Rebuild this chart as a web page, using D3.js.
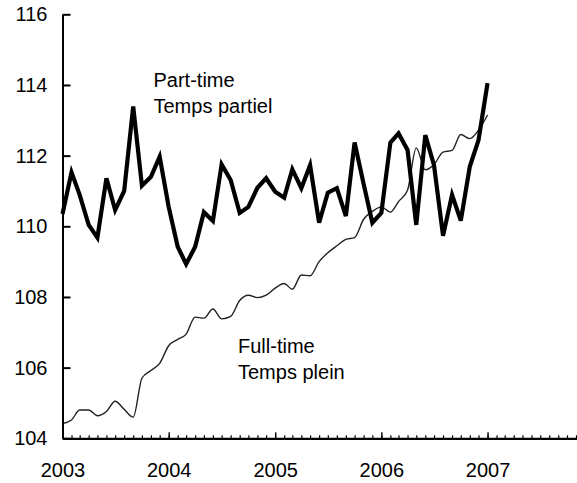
<!DOCTYPE html>
<html>
<head>
<meta charset="utf-8">
<script src="https://cdn.jsdelivr.net/npm/d3@7"></script>
<style>
  html, body { margin: 0; padding: 0; background: #fff; }
  svg { display: block; font-family: "Liberation Sans", Arial, Helvetica, sans-serif; }
</style>
</head>
<body>
<svg id="chart" width="577" height="483"></svg>
<script>
// ---- Data (monthly index, Jan 2003 = 100 base series) ----
const startMonth = new Date(2003, 0, 1);
const partTime = [
  110.35, 111.53, 110.89, 110.04, 109.68, 111.36, 110.46, 111.00, 113.39, 111.15, 111.40, 111.97,
  110.55, 109.42, 108.93, 109.42, 110.40, 110.15, 111.75, 111.31, 110.38, 110.55, 111.09, 111.36,
  110.98, 110.81, 111.61, 111.08, 111.73, 110.10, 110.95, 111.08, 110.29, 112.37, 111.20, 110.10,
  110.38, 112.37, 112.63, 112.16, 110.04, 112.58, 111.73, 109.73, 110.89, 110.16, 111.69, 112.44,
  114.05
];
const fullTime = [
  104.42, 104.52, 104.80, 104.80, 104.64, 104.76, 105.05, 104.82, 104.60, 105.70, 105.92, 106.12,
  106.62, 106.80, 106.95, 107.43, 107.40, 107.66, 107.38, 107.45, 107.90, 108.05, 107.98, 108.05,
  108.25, 108.38, 108.22, 108.62, 108.60, 109.00, 109.25, 109.45, 109.63, 109.68, 110.20, 110.42,
  110.55, 110.40, 110.70, 111.02, 112.22, 111.60, 111.75, 112.10, 112.15, 112.60, 112.48, 112.72,
  113.15
];
const yTicks = [104, 106, 108, 110, 112, 114, 116];
const yearTicks = [2003, 2004, 2005, 2006, 2007];
const partLabel = ["Part-time", "Temps partiel"];
const fullLabel = ["Full-time", "Temps plein"];

// ---- Layout ----
const svg = d3.select("#chart");
const monthW = 8.854;
const x0 = 62.5;
const x = d3.scaleTime()
  .domain([startMonth, new Date(2008, 0, 1)])
  .range([x0, x0 + 60 * monthW]);
const y = d3.scaleLinear().domain([104, 116]).range([438.3, 14.3]);

const months = d3.timeMonth.range(startMonth, new Date(2007, 1, 1));
const ptData = partTime.map((v, i) => ({ d: months[i], v }));
const ftData = fullTime.map((v, i) => ({ d: months[i], v }));

// ---- Lines ----
const line = d3.line().x(p => x(p.d)).y(p => y(p.v));
svg.append("path").datum(ftData)
  .attr("fill", "none").attr("stroke", "#222").attr("stroke-width", 1.4)
  .attr("stroke-linejoin", "round")
  .attr("d", line.curve(d3.curveMonotoneX));
svg.append("path").datum(ptData)
  .attr("fill", "none").attr("stroke", "#000").attr("stroke-width", 4.2)
  .attr("stroke-linejoin", "miter")
  .attr("d", d3.line().x(p => x(p.d)).y(p => y(p.v))(ptData));

// ---- Axes ----
const yAxis = d3.axisLeft(y).tickValues(yTicks).tickSize(-8).tickSizeOuter(0).tickPadding(15)
  .tickFormat(d3.format("d"));
const gy = svg.append("g").attr("transform", `translate(${x0},0)`).call(yAxis);
gy.select(".domain").attr("stroke-width", 2);
gy.selectAll(".tick line").attr("stroke-width", 2);
gy.selectAll("text").attr("font-size", 20).attr("fill", "#000")
  .attr("font-family", "'Liberation Sans', Arial, sans-serif");

// minor monthly ticks
const minorAxis = d3.axisBottom(x).ticks(d3.timeMonth.every(1)).tickSize(-3).tickSizeOuter(0)
  .tickFormat("");
const gm = svg.append("g").attr("transform", `translate(0,${y(104)})`).call(minorAxis);
gm.select(".domain").attr("stroke-width", 2.2);
gm.selectAll(".tick line").attr("stroke-width", 1.2);

// major yearly ticks with labels
const xAxis = d3.axisBottom(x)
  .tickValues(yearTicks.map(yr => new Date(yr, 0, 1)))
  .tickSize(-6).tickSizeOuter(0).tickPadding(24.5)
  .tickFormat(d3.timeFormat("%Y"));
const gx = svg.append("g").attr("transform", `translate(0,${y(104)})`).call(xAxis);
gx.select(".domain").remove();
gx.selectAll(".tick line").attr("stroke-width", 1.4);
gx.selectAll("text").attr("font-size", 20).attr("fill", "#000")
  .attr("font-family", "'Liberation Sans', Arial, sans-serif");

// ---- Labels ----
function label(lines, xx, yy) {
  const t = svg.append("text").attr("x", xx).attr("y", yy)
    .attr("font-size", 20).attr("fill", "#000");
  lines.forEach((s, i) => t.append("tspan").attr("x", xx).attr("dy", i === 0 ? 0 : 26).text(s));
}
label(partLabel, 153.5, 87.3);
label(fullLabel, 238, 352.7);
</script>
</body>
</html>
